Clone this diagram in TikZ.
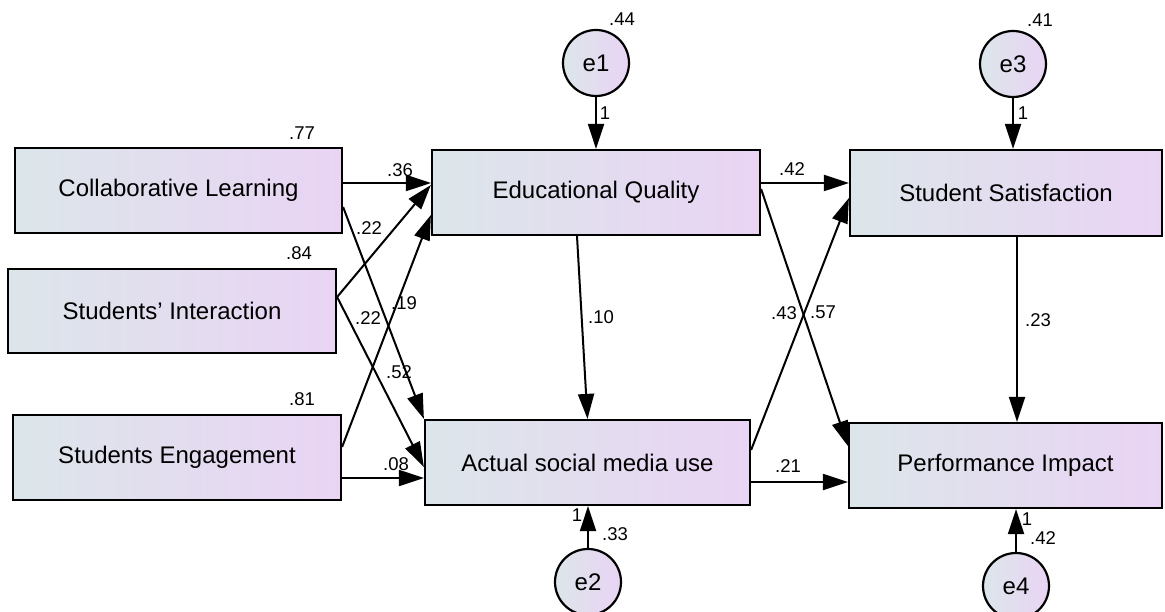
\documentclass[tikz,border=0pt]{standalone}
\usepackage{fontspec}
\setmainfont{Liberation Sans}
\usetikzlibrary{arrows.meta}
\definecolor{boxleft}{HTML}{DCE6EA}
\definecolor{boxright}{HTML}{E9D4F4}
\begin{document}
\begin{tikzpicture}[x=1pt,y=-1pt,
    varbox/.style={draw,line width=2.2pt,left color=boxleft,right color=boxright,inner sep=0pt,
        font=\fontsize{24}{28}\selectfont},
    errvar/.style={draw,circle,line width=2.2pt,minimum size=66pt,inner sep=0pt,
        shading angle=135,left color=boxleft,right color=boxright,font=\fontsize{24}{28}\selectfont},
    coef/.style={font=\fontsize{18.5}{21}\selectfont,inner sep=0pt},
    path/.style={line width=2pt,-{Triangle[length=25pt,width=16pt]}}]
        \useasboundingbox (0,0) rectangle (1165,612);
        %% Exogenous variables
        \node[varbox,minimum width=327pt,minimum height=85pt] (CL) at (178.5,190.5) {Collaborative Learning};
        \node[varbox,minimum width=328pt,minimum height=84pt] (SI) at (172,311) {Students’ Interaction};
        \node[varbox,minimum width=328pt,minimum height=85pt] (SE) at (177,457.5) {Students Engagement};
        %% Mediators
        \node[varbox,minimum width=328pt,minimum height=85pt] (EQ) at (596,192.5) {Educational Quality};
        \node[varbox,minimum width=325pt,minimum height=85pt] (AS) at (587.5,462.5) {Actual social media use};
        %% Outcomes
        \node[varbox,minimum width=312pt,minimum height=86pt] (SS) at (1006,193) {Student Satisfaction};
        \node[varbox,minimum width=313pt,minimum height=85pt] (PI) at (1005.5,465.5) {Performance Impact};
        %% Errors
        \node[errvar] (e1) at (596,63) {e1};
        \node[errvar] (e3) at (1013,64) {e3};
        \node[errvar] (e2) at (588,582) {e2};
        \node[errvar] (e4) at (1016,586) {e4};
        %% Paths
        \draw[path] ([yshift=7.5pt]CL.east) -- ([yshift=9.5pt]EQ.west);
        \draw[path] ([yshift=-16.5pt]CL.east) -- (AS.north west);
        \draw[path] ([yshift=14pt]SI.east) -- ([yshift=7.5pt]EQ.west);
        \draw[path] ([yshift=14pt]SI.east) -- ([yshift=-4.5pt]AS.west);
        \draw[path] ([yshift=10.5pt]SE.east) -- ([yshift=-22.5pt]EQ.west);
        \draw[path] ([yshift=-20.5pt]SE.east) -- ([yshift=-15.5pt]AS.west);
        \draw[path] ([xshift=-19pt]EQ.south) -- (AS.north);
        \draw[path] ([yshift=9.5pt]EQ.east) -- ([yshift=10pt]SS.west);
        \draw[path] ([yshift=3.5pt]EQ.east) -- ([yshift=19.5pt]PI.west);
        \draw[path] ([yshift=12.5pt]AS.east) -- ([yshift=-5pt]SS.west);
        \draw[path] ([yshift=-19.5pt]AS.east) -- ([yshift=-16.5pt]PI.west);
        \draw[path] ([xshift=11pt]SS.south) -- ([xshift=11.5pt]PI.north);
        \draw[path] (e1.south) -- (EQ.north);
        \draw[path] (e3.south) -- ([xshift=7pt]SS.north);
        \draw[path] (e2.north) -- ([xshift=0.5pt]AS.south);
        \draw[path] (e4.north) -- ([xshift=10.5pt]PI.south);
        %% Squared multiple correlations
        \node[coef] (r2CL) at (302,133) {.77};
        \node[coef] (r2SI) at (299,253) {.84};
        \node[coef] (r2SE) at (302,399) {.81};
        \node[coef] (r2EQ) at (622,19) {.44};
        \node[coef] (r2SS) at (1040,20) {.41};
        \node[coef] (r2AS) at (615,534) {.33};
        \node[coef] (r2PI) at (1043,538) {.42};
        %% Fixed loadings
        \node[coef] (one1) at (605,113) {1};
        \node[coef] (one3) at (1023,113) {1};
        \node[coef] (one2) at (577,515) {1};
        \node[coef] (one4) at (1027,519) {1};
        %% Path coefficients
        \node[coef] (bCLEQ) at (400,170) {.36};
        \node[coef] (bCLAS) at (369,228) {.22};
        \node[coef] (bSIAS) at (368,318) {.22};
        \node[coef] (bSEEQ) at (404,303) {.19};
        \node[coef] (bSIEQ) at (399,372) {.52};
        \node[coef] (bSEAS) at (396,464) {.08};
        \node[coef] (bEQAS) at (601,317) {.10};
        \node[coef] (bEQSS) at (792,169) {.42};
        \node[coef] (bASSS) at (784,313) {.43};
        \node[coef] (bEQPI) at (823,312) {.57};
        \node[coef] (bSSPI) at (1038,320) {.23};
        \node[coef] (bASPI) at (788,466) {.21};
    \end{tikzpicture}
\end{document}
